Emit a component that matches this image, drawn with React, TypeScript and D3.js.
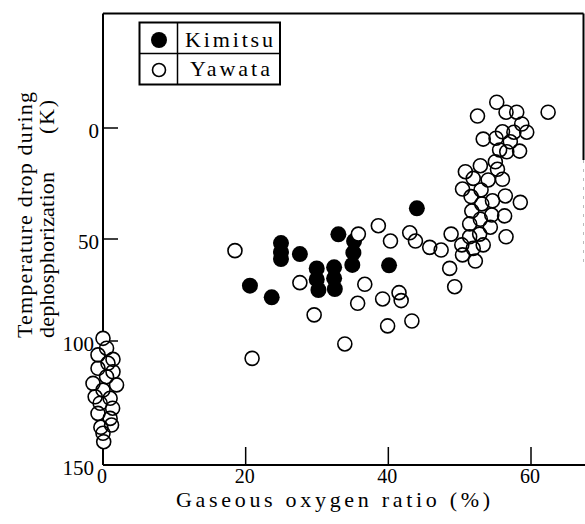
import React from "react";
import * as d3 from "d3";

// Kimitsu heats: [gaseous oxygen ratio %, temperature drop K]
const kimitsu: [number, number][] = [
  [24.95, 52.0], [24.95, 56.4], [24.95, 59.8],
  [27.6, 57.4], [20.6, 72.9], [23.65, 78.6],
  [29.96, 64.4], [29.96, 69.8], [30.2, 75.0],
  [32.4, 63.9], [32.4, 69.3], [32.5, 74.5],
  [33.0, 47.9],
  [35.2, 51.0], [35.1, 56.7], [34.95, 62.7],
  [40.1, 62.9], [44.0, 36.2],
];

// Yawata heats without gaseous oxygen
const yawataZero: [number, number][] = [
  [0, 98.7], [0.5, 102.9], [-0.7, 105.6], [1.4, 107.4], [-0.7, 111.0],
  [0.7, 109.0], [1.4, 112.4], [0.5, 114.4], [-1.4, 117.1], [1.9, 117.7],
  [0, 119.8], [-1.1, 122.5], [1.0, 123.1], [-0.4, 125.1], [1.35, 127.1],
  [-0.7, 129.2], [1.0, 131.2], [-0.3, 134.8], [1.2, 133.9], [0, 137.2],
  [0.1, 140.6],
];

// Yawata heats, intermediate oxygen ratio
const yawataMid: [number, number][] = [
  [18.5, 55.7], [27.6, 71.4], [29.6, 87.2], [33.9, 101.2], [20.9, 107.0],
  [35.8, 47.8], [38.6, 44.0], [40.3, 51.0], [36.7, 72.2], [35.7, 81.5],
  [39.2, 79.4], [41.5, 76.3], [41.8, 80.2], [39.9, 92.6], [43.3, 90.2],
  [43.0, 47.2], [43.8, 51.0], [45.8, 54.1], [47.4, 55.4], [48.8, 47.8],
  [48.6, 64.4], [49.3, 73.4],
];

// Yawata heats, high oxygen ratio
const yawataHigh: [number, number][] = [
  [55.2, -11.6], [52.5, -5.4], [56.5, -7.1], [58.0, -7.1], [62.4, -7.1],
  [58.7, -1.8], [59.4, 1.9], [56.0, 1.7], [57.6, 1.9], [53.3, 5.0],
  [55.1, 4.6], [57.1, 6.2], [55.6, 9.9], [56.6, 10.7], [58.4, 10.4],
  [55.0, 15.2], [52.9, 17.0], [55.3, 18.6], [50.8, 19.7], [51.9, 22.7],
  [54.0, 23.4], [56.0, 23.1], [50.4, 27.5], [53.0, 27.9], [51.6, 30.9],
  [54.6, 32.8], [56.4, 30.6], [58.5, 33.5], [53.1, 34.2], [51.7, 37.4],
  [54.5, 39.2], [56.3, 39.6], [52.9, 41.1], [51.4, 43.2], [54.3, 44.7],
  [51.4, 49.0], [52.8, 47.8], [56.5, 49.0], [50.3, 52.9], [53.3, 52.9],
  [51.9, 54.6], [50.4, 57.8], [52.2, 60.8],
];

const xTicks = [0, 20, 40, 60];
const yTicks = [0, 50, 100, 150];

const seriesNames = ["Kimitsu", "Yawata"];
const xTitle = "Gaseous oxygen ratio (%)";
const yTitleLines = ["Temperature drop during", "dephosphorization", "(K)"];

const FONT = "'Liberation Serif', 'Times New Roman', serif";

export default function App() {
  const W = 585;
  const H = 524;
  const left = 103;
  const right = 583.5;
  const top = 13.5;
  const bottom = 465;

  const x = d3.scaleLinear().domain([0, 60]).range([103, 531]);
  // printed axis is slightly uneven; scale follows the tick positions
  const y = d3.scaleLinear().domain(yTicks).range([128, 239, 341, bottom]);

  const yawata = [...yawataZero, ...yawataMid, ...yawataHigh];

  return (
    <svg
      width={W}
      height={H}
      style={{ position: "absolute", left: 0, top: 0, background: "#fff" }}
      fontFamily={FONT}
    >
      {/* frame */}
      <g stroke="#000" strokeWidth={2} fill="none">
        <line x1={left} y1={top} x2={left} y2={bottom} />
        <line x1={left} y1={bottom} x2={W} y2={bottom} />
        <line x1={left} y1={top} x2={right} y2={top} />
        <line x1={right} y1={top} x2={right} y2={160} />
      </g>
      <line x1={right} y1={160} x2={right} y2={262} stroke="#bbb" strokeWidth={1} strokeDasharray="3 6" />

      {/* x ticks */}
      {xTicks.map((t) => (
        <g key={"xt" + t}>
          {t !== 0 && (
            <line x1={x(t)} y1={bottom} x2={x(t)} y2={bottom - 18} stroke="#000" strokeWidth={1.5} />
          )}
          <text x={x(t) - 1} y={483} fontSize={20} textAnchor="middle">
            {t}
          </text>
        </g>
      ))}

      {/* y ticks */}
      {yTicks.map((t) => (
        <g key={"yt" + t}>
          {t !== 150 && (
            <line x1={left} y1={y(t)} x2={left + 15} y2={y(t)} stroke="#000" strokeWidth={1.5} />
          )}
          <text x={t >= 100 ? 94 : 99} y={y(t) + 10} fontSize={21} textAnchor="end">
            {t}
          </text>
        </g>
      ))}

      {/* axis titles */}
      <text x={176} y={507} fontSize={22} textLength={314} lengthAdjust="spacing">
        {xTitle}
      </text>
      <text transform="translate(32,338) rotate(-90)" fontSize={22} textLength={246} lengthAdjust="spacing">
        {yTitleLines[0]}
      </text>
      <text transform="translate(54,338) rotate(-90)" fontSize={22} textLength={166} lengthAdjust="spacing">
        {yTitleLines[1]}
      </text>
      <text transform="translate(54,134) rotate(-90)" fontSize={22} textLength={34} lengthAdjust="spacing">
        {yTitleLines[2]}
      </text>

      {/* Kimitsu points */}
      <g fill="#000">
        {kimitsu.map(([a, b], i) => (
          <circle key={"k" + i} cx={x(a)} cy={y(b)} r={8} />
        ))}
      </g>

      {/* Yawata points: white underlay, then outlines */}
      <g fill="#fff" stroke="none">
        {yawata.map(([a, b], i) => (
          <circle key={"yu" + i} cx={x(a)} cy={y(b)} r={7} />
        ))}
      </g>
      <g fill="none" stroke="#000" strokeWidth={1.6}>
        {yawata.map(([a, b], i) => (
          <circle key={"yo" + i} cx={x(a)} cy={y(b)} r={7} />
        ))}
      </g>

      {/* legend */}
      <g>
        <rect x={139.5} y={22.5} width={140.5} height={62} fill="#fff" stroke="#000" strokeWidth={2} />
        <line x1={177.5} y1={22.5} x2={177.5} y2={84.5} stroke="#000" strokeWidth={1.5} />
        <line x1={139.5} y1={53.5} x2={280} y2={53.5} stroke="#000" strokeWidth={1.5} />
        <circle cx={159} cy={40} r={8} fill="#000" />
        <circle cx={159} cy={70} r={6.5} fill="none" stroke="#000" strokeWidth={1.6} />
        <text x={185} y={47} fontSize={22} textLength={88} lengthAdjust="spacing">
          {seriesNames[0]}
        </text>
        <text x={190} y={76} fontSize={22} textLength={80} lengthAdjust="spacing">
          {seriesNames[1]}
        </text>
      </g>
    </svg>
  );
}
